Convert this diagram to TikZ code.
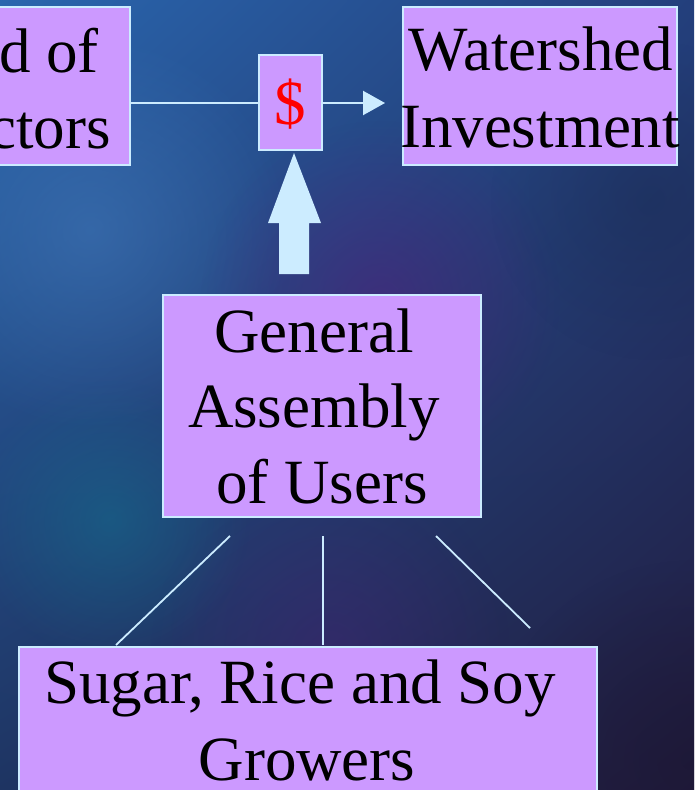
\documentclass[tikz,border=0pt]{standalone}
\usepackage{fontspec}
\setmainfont{Liberation Serif}
\usetikzlibrary{arrows.meta,shadings,fadings}
\tikzfading[name=softblob, inner color=transparent!0, outer color=transparent!100]
\definecolor{boxfill}{HTML}{CC99FF}
\definecolor{edge}{HTML}{CCECFF}
\definecolor{bgA}{HTML}{2A66AE}
\definecolor{bgB}{HTML}{233F7C}
\definecolor{bgC}{HTML}{1E3462}
\definecolor{bgD}{HTML}{221C3E}
\tikzset{
  box/.style={draw=edge, line width=2pt, fill=boxfill, inner sep=0pt},
  txt/.style={font=\fontsize{63}{77}\selectfont, text=black, inner sep=0pt},
  conn/.style={draw=edge, line width=2.2pt},
  blob/.style={path fading=softblob},
}
\begin{document}
\begin{tikzpicture}[x=1pt,y=-1pt]
\useasboundingbox (0,0) rectangle (694,790);
\clip (0,0) rectangle (694,790);
% background
\shade[upper left=bgA, upper right=bgB, lower left=bgC, lower right=bgD] (0,0) rectangle (694,790);
\fill[bgA!90!white, blob, opacity=0.6] (90,230) circle (200);
\fill[teal!60!bgA, blob, opacity=0.45] (110,520) circle (140);
\fill[violet!60!bgB, blob, opacity=0.45] (380,300) circle (180);
\fill[violet!50!bgB, blob, opacity=0.35] (330,650) circle (180);
\fill[bgD!80!black, blob, opacity=0.6] (690,760) circle (200);
\fill[bgC!80!black, blob, opacity=0.4] (650,200) circle (160);
% boxes
\node[box, minimum width=150pt, minimum height=158pt] (board) at (55,86) {};
\node[txt, anchor=base east] (boardA) at (99,72) {d of};
\node[txt, anchor=base east] (boardB) at (111,148) {ctors};

\node[box, minimum width=63pt, minimum height=95pt] (dollar) at (290.5,102.5) {};
\node[txt, text=red, anchor=base] (dollarT) at (290.5,124) {\$};

\node[box, minimum width=274pt, minimum height=158pt] (ws) at (540,86) {};
\node[txt, anchor=base] (wsA) at (541,70) {Watershed};
\node[txt, anchor=base] (wsB) at (540,147) {Investment};

\node[box, minimum width=318pt, minimum height=222pt] (ga) at (322,406) {};
\node[txt, anchor=base] (gaA) at (314,352) {General};
\node[txt, anchor=base] (gaB) at (314,427) {Assembly};
\node[txt, anchor=base] (gaC) at (322,503) {of Users};

\node[box, minimum width=578pt, minimum height=170pt] (grow) at (308,732) {};
\node[txt, anchor=base] (growA) at (300,703) {Sugar, Rice and Soy};
\node[txt, anchor=base] (growB) at (307,780) {Growers};

% connectors
\coordinate (arrEnd) at (385,103);
\draw[conn] (board.east |- 0,103) -- (dollar.west |- 0,103);
\draw[conn, -{Triangle[length=22pt,width=24pt]}] (dollar.east |- 0,103) -- (arrEnd);

\coordinate (bigS) at (294,274);
\fill[edge] (279,274) -- (279,223) -- (268,223) -- (294,153) -- (321,223) -- (309,223) -- (309,274) -- cycle;

\coordinate (l1a) at (230,536); \coordinate (l1b) at (116,645);
\coordinate (l2a) at (323,536); \coordinate (l2b) at (323,645);
\coordinate (l3a) at (436,536); \coordinate (l3b) at (530,628);
\draw[conn, line width=1.8pt] (l1a) -- (l1b);
\draw[conn, line width=1.8pt] (l2a) -- (l2b);
\draw[conn, line width=1.8pt] (l3a) -- (l3b);
\end{tikzpicture}
\end{document}
